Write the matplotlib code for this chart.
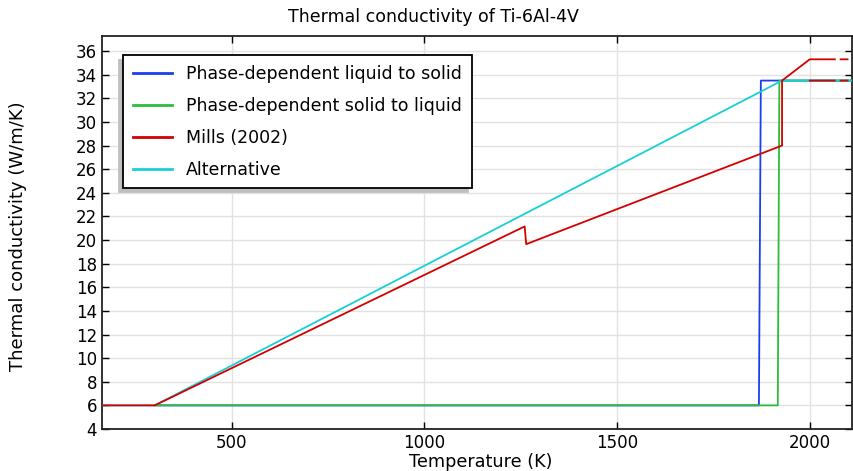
import numpy as np
import matplotlib.pyplot as plt

# temperature (K) / conductivity (W/m/K)
t_liq_sol = [300, 1868, 1873, 1928, 2110]
k_liq_sol = [6, 6, 33.5, 33.5, 33.5]

t_sol_liq = [300, 1917, 1921, 1928, 2110]
k_sol_liq = [6, 6, 33.5, 33.5, 33.5]

t_mills = [150, 300, 1260, 1264, 1928, 1928, 2000, 2065, np.nan, 2080, 2098,
           np.nan, 2000, 2065, np.nan, 2080, 2098]
k_mills = [6, 6, 21.15, 19.65, 28, 33.5, 35.3, 35.3, np.nan, 35.3, 35.3,
           np.nan, 33.5, 33.5, np.nan, 33.5, 33.5]

t_alt = [150, 300, 1928, 2110]
k_alt = [6, 6, 33.5, 33.5]

fig = plt.figure(figsize=(8.54, 4.71), dpi=100)
ax = fig.add_axes([0.1194, 0.0892, 0.878, 0.835])

ax.plot(t_liq_sol, k_liq_sol, color='#1a3ff0', lw=1.3, zorder=3,
        label='Phase-dependent liquid to solid')
ax.plot(t_sol_liq, k_sol_liq, color='#2dbd3a', lw=1.3, zorder=4,
        label='Phase-dependent solid to liquid')
ax.plot(t_mills, k_mills, color='#d40000', lw=1.3, zorder=6,
        label='Mills (2002)')
ax.plot(t_alt, k_alt, color='#17cfd6', lw=1.3, zorder=5,
        label='Alternative')

ax.set_xlim(163, 2109)
ax.set_ylim(4, 37.3)
ax.set_xticks([500, 1000, 1500, 2000])
ax.set_yticks(np.arange(4, 37, 2))
ax.tick_params(direction='in', top=True, right=True, length=5,
               labelsize=12, width=1)
ax.grid(color='#e2e2e2', lw=1)
ax.set_axisbelow(True)
for s in ax.spines.values():
    s.set_linewidth(1.3)
    s.set_color('#222222')

fig.text(0.507, 0.964, 'Thermal conductivity of Ti-6Al-4V', fontsize=12.5,
         ha='center', va='center')
ax.set_xlabel('Temperature (K)', fontsize=12.7, va='center')
ax.xaxis.set_label_coords(0.505, -0.084)
ax.set_ylabel('Thermal conductivity (W/m/K)', fontsize=13, va='center')
ax.yaxis.set_label_coords(-0.112, 0.491)

leg = ax.legend(loc='upper left', bbox_to_anchor=(0.028, 0.95), borderaxespad=0,
                fontsize=12.5, fancybox=False, framealpha=1, edgecolor='black',
                handlelength=2.3, labelspacing=0.8, borderpad=0.55,
                shadow={'ox': -3, 'oy': -3, 'shade': 0.25, 'alpha': 1})
leg.get_frame().set_linewidth(1.3)
for line in leg.get_lines():
    line.set_linewidth(2)

fig.savefig('out.png', dpi=100)
